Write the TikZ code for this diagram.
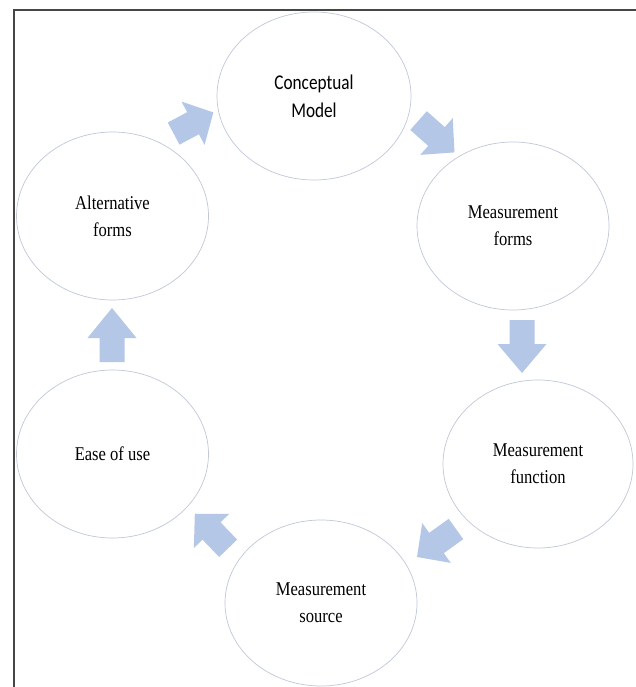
\documentclass[tikz,border=0pt]{standalone}
\usepackage{fontspec}
\newfontfamily\tnrfont[FakeStretch=0.85]{Liberation Serif}
\newfontfamily\calfont[FakeStretch=0.82]{Carlito}
\usetikzlibrary{shapes.geometric}
\definecolor{arrowblue}{RGB}{180,199,231}
\definecolor{ringgray}{RGB}{192,200,216}
\definecolor{framegray}{RGB}{70,70,70}
% block arrow: {center}{angle}{length}{head length}
\newcommand\blockarr[4]{%
  \begin{scope}[shift={#1},rotate=#2]
    \fill[arrowblue] ({-#3/2},-12.5) -- ({#3/2-#4},-12.5) -- ({#3/2-#4},-24.5)
      -- ({#3/2},0) -- ({#3/2-#4},24.5) -- ({#3/2-#4},12.5) -- ({-#3/2},12.5) -- cycle;
  \end{scope}}
\begin{document}
\begin{tikzpicture}[x=1pt,y=-1pt,
  ring/.style={ellipse,draw=ringgray,line width=0.7pt,fill=white,inner sep=0pt,
    align=center,text=black,font=\tnrfont\fontsize{19.5}{27}\selectfont},
]
\useasboundingbox (0,0) rectangle (636,687);
\fill[white] (0,0) rectangle (636,687);
\draw[framegray,line width=1.1pt] (14,687) -- (14,10) -- (636,10);

\node[ring,minimum width=194pt,minimum height=168pt,font=\calfont\fontsize{21}{28}\selectfont] (concept) at (314,96) {Conceptual\\Model};
\node[ring,minimum width=192pt,minimum height=168pt] (forms) at (513,226) {Measurement\\forms};
\node[ring,minimum width=190pt,minimum height=168pt] (function) at (538,464) {Measurement\\function};
\node[ring,minimum width=192pt,minimum height=166pt] (source) at (321,603) {Measurement\\source};
\node[ring,minimum width=192pt,minimum height=168pt] (ease) at (112.5,454) {Ease of use};
\node[ring,minimum width=192pt,minimum height=168pt] (alt) at (112.5,216) {Alternative\\forms};

\blockarr{(193.5,123)}{28}{45}{23}
\blockarr{(436.5,136.5)}{-41.5}{48}{24}
\blockarr{(522,346.5)}{-90}{53}{29}
\blockarr{(436.5,543)}{215.7}{48}{24}
\blockarr{(211.5,531)}{134}{48}{24}
\blockarr{(112,335)}{90}{54}{30}
\end{tikzpicture}
\end{document}
